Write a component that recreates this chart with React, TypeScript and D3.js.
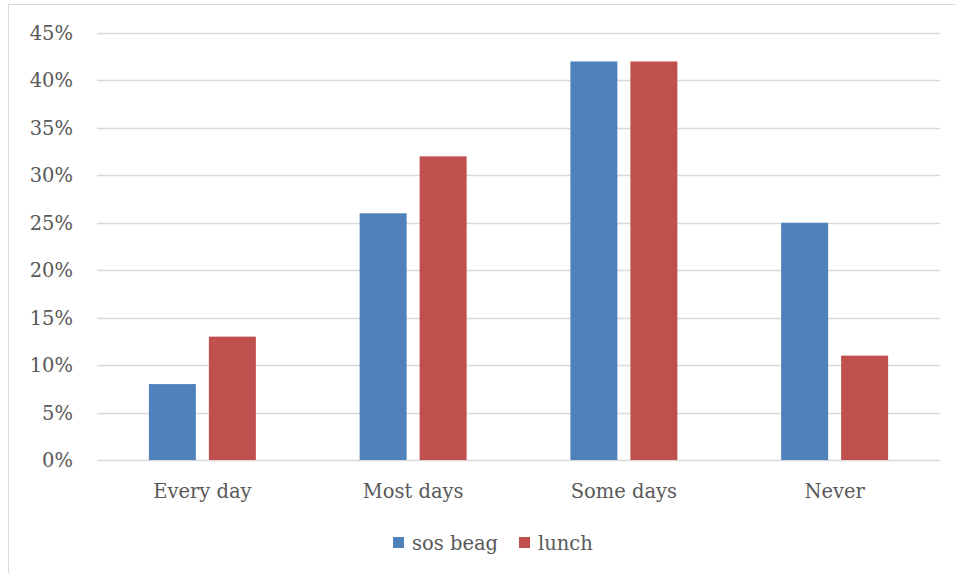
import { useEffect, useRef } from 'react';
import * as d3 from 'd3';

const categories = ['Every day', 'Most days', 'Some days', 'Never'];
const seriesNames = ['sos beag', 'lunch'];
const sosBeag = [8, 26, 42, 25];
const lunch = [13, 32, 42, 11];
const yTicks = [0, 5, 10, 15, 20, 25, 30, 35, 40, 45];
const colors = ['#4F81BD', '#C0504D'];

export default function App() {
	const ref = useRef<SVGSVGElement | null>(null);

	useEffect(() => {
		if (!ref.current) return;
		const svg = d3.select(ref.current);
		svg.selectAll('*').remove();

		const font = '"DejaVu Serif", serif';
		const left = 97;
		const right = 940;
		const top = 33;
		const bottom = 460;

		// frame (only top and left edges visible)
		svg.append('line').attr('x1', 8).attr('x2', 956).attr('y1', 4.5).attr('y2', 4.5).attr('stroke', '#d9d9d9').attr('stroke-width', 1);
		svg.append('line').attr('x1', 8.5).attr('x2', 8.5).attr('y1', 4).attr('y2', 573).attr('stroke', '#d9d9d9').attr('stroke-width', 1);

		const y = d3.scaleLinear().domain([0, 45]).range([bottom, top]);
		const x0 = d3.scaleBand<string>().domain(categories).range([left, right]).padding(0);
		const x1 = d3
			.scaleBand<string>()
			.domain(seriesNames)
			.range([0, x0.bandwidth()])
			.paddingInner(0.217)
			.paddingOuter(0.865);

		svg
			.append('g')
			.selectAll('line')
			.data(yTicks)
			.join('line')
			.attr('x1', left)
			.attr('x2', right)
			.attr('y1', d => Math.round(y(d)) + 0.5)
			.attr('y2', d => Math.round(y(d)) + 0.5)
			.attr('stroke', '#d9d9d9')
			.attr('stroke-width', 1.5);

		svg
			.append('g')
			.selectAll('text')
			.data(yTicks)
			.join('text')
			.attr('x', 73)
			.attr('y', d => y(d) + 7)
			.attr('text-anchor', 'end')
			.attr('font-family', font)
			.attr('font-size', 19.5)
			.attr('fill', '#595959')
			.text(d => `${d}%`);

		const series = [sosBeag, lunch];
		series.forEach((vals, si) => {
			svg
				.append('g')
				.selectAll('rect')
				.data(vals)
				.join('rect')
				.attr('x', (_, i) => x0(categories[i])! + x1(seriesNames[si])!)
				.attr('y', d => y(d))
				.attr('width', x1.bandwidth())
				.attr('height', d => bottom - y(d))
				.attr('fill', colors[si]);
		});

		svg
			.append('g')
			.selectAll('text')
			.data(categories)
			.join('text')
			.attr('x', d => x0(d)! + x0.bandwidth() / 2)
			.attr('y', 498)
			.attr('text-anchor', 'middle')
			.attr('font-family', font)
			.attr('font-size', 19.5)
			.attr('fill', '#595959')
			.text(d => d);

		const legend = svg.append('g');
		const legendX = [393, 519];
		seriesNames.forEach((name, i) => {
			legend.append('rect').attr('x', legendX[i]).attr('y', 537).attr('width', 11).attr('height', 11).attr('fill', colors[i]);
			legend
				.append('text')
				.attr('x', legendX[i] + 19)
				.attr('y', 550)
				.attr('font-family', font)
				.attr('font-size', 19.5)
				.attr('fill', '#595959')
				.text(name);
		});
	}, []);

	return (
		<svg
			width={956}
			height={573}
			ref={ref}
			style={{ position: 'absolute', left: 0, top: 0, background: '#fff' }}
		/>
	);
}
